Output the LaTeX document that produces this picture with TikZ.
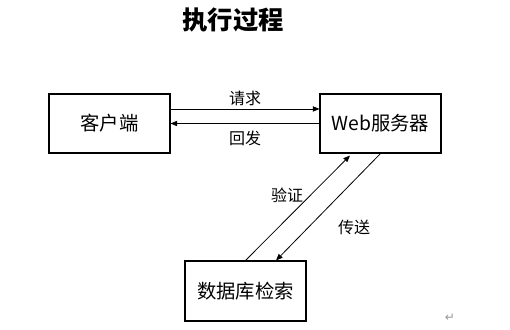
\documentclass[tikz,border=0pt]{standalone}
\usepackage{fontspec}
\newfontfamily\cjk{Noto Sans CJK SC}
\newfontfamily\symfont{DejaVu Sans}
\usetikzlibrary{positioning,arrows.meta}
\definecolor{markgray}{RGB}{150,150,150}
\tikzset{
  pbox/.style={draw, line width=0.8pt, minimum width=90.75pt, minimum height=44.25pt,
               inner sep=0pt, font=\cjk\fontsize{14.5}{16}\selectfont},
  flow/.style={-{Triangle[length=5pt,width=4pt]}, line width=0.6pt},
  flabel/.style={font=\cjk\fontsize{12}{14}\selectfont, inner sep=1pt},
}

\begin{document}
\begin{tikzpicture}[x=0.75pt,y=-0.75pt]
  \useasboundingbox (0,0) rectangle (510,329);
  % --- Titel ---
  \node[font=\cjk\bfseries\fontsize{19}{22}\selectfont] (title) at (233,20) {执行过程};
  % --- Kaesten ---
  \node[pbox] (client) at (109.5,123.5) {客户端};
  \node[pbox] (web) at (380.5,123.5) {Web服务器};
  \node[pbox, minimum height=45pt] (db) at (245.5,291) {数据库检索};
  % --- Anfrage / Antwort ---
  \draw[flow] ([yshift=10.9pt]client.east) -- node[flabel, above=1pt] (req) {请求}
    ([yshift=10.9pt]web.west);
  \draw[flow] (web.west) -- node[flabel, below=4pt] (resp) {回发} (client.east);
  % --- Datenbank ---
  \draw[flow] (db.north) -- node[flabel, pos=.62, left=4pt] (check) {验证}
    ([xshift=-22.9pt,yshift=-1.5pt]web.south);
  \draw[flow] (web.south) -- node[flabel, pos=.69, right=21pt] (send) {传送}
    ([xshift=22.9pt]db.north);
  \node[font=\symfont\fontsize{9}{9}\selectfont, text=markgray] (pmark) at (450,318) {↵};
\end{tikzpicture}
\end{document}
